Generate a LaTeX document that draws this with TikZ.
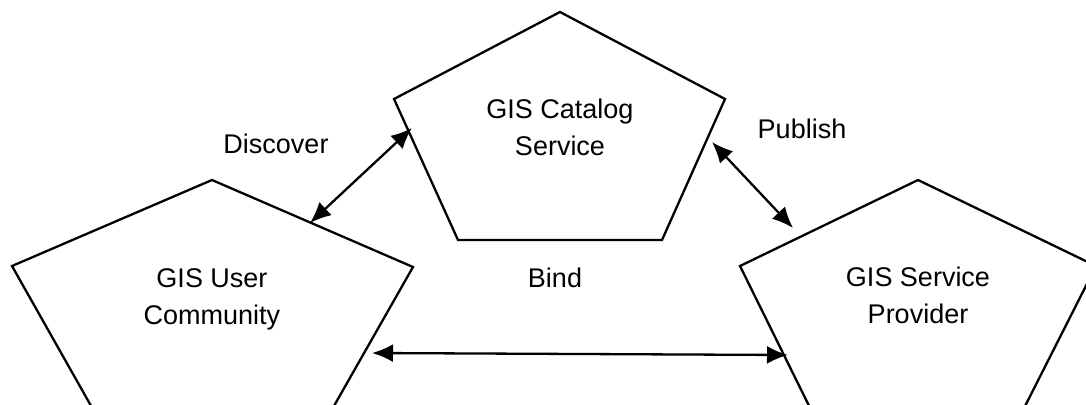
\documentclass[tikz,border=0pt]{standalone}
\usepackage{fontspec}
\setmainfont{Liberation Sans}
\usetikzlibrary{arrows.meta}
\tikzstyle{link}=[{Latex[length=21pt,width=18pt]}-{Latex[length=21pt,width=18pt]},line width=2.3pt,color=black]

\begin{document}
\begin{tikzpicture}[x=1pt,y=-1pt]
    % contorno dos pentágonos e rótulos
    \tikzstyle{role}=[draw,line width=2.3pt,line join=miter]
    \tikzstyle{lbl}=[align=center,font=\fontsize{27}{37}\selectfont]

    \useasboundingbox (0,0) rectangle (1086,404);
    \clip (0,0) rectangle (1086,404);

    % os pentágonos de baixo passam da borda
    \draw[role] (560,12) -- (725,99) -- (662,240) -- (458,240) -- (394,99) -- cycle;
    \draw[role] (212,180) -- (413,267) -- (326,420) -- (99,420) -- (12,266) -- cycle;
    \draw[role] (918,180) -- (1096,266) -- (1018,420) -- (816,420) -- (740,266) -- cycle;

    \node[lbl] (catalog) at (560,127) {GIS Catalog\\Service};
    \node[lbl] (user) at (212,299) {GIS User\\Community};
    \node[lbl] (provider) at (918,295) {GIS Service\\Provider};

    \node[lbl] (discover) at (276,144) {Discover};
    \node[lbl] (publish) at (802,129) {Publish};
    \node[lbl] (bind) at (555,278) {Bind};

    % pontas das setas nas bordas
    \coordinate (user-top) at (310,223);
    \coordinate (catalog-left) at (412,128);
    \coordinate (catalog-right) at (712,142);
    \coordinate (provider-top) at (793,228);
    \coordinate (user-right) at (372,353);
    \coordinate (provider-left) at (788,355);

    \draw[link] (user-top) -- (catalog-left);
    \draw[link] (catalog-right) -- (provider-top);
    \draw[link] (user-right) -- (provider-left);
\end{tikzpicture}
\end{document}
